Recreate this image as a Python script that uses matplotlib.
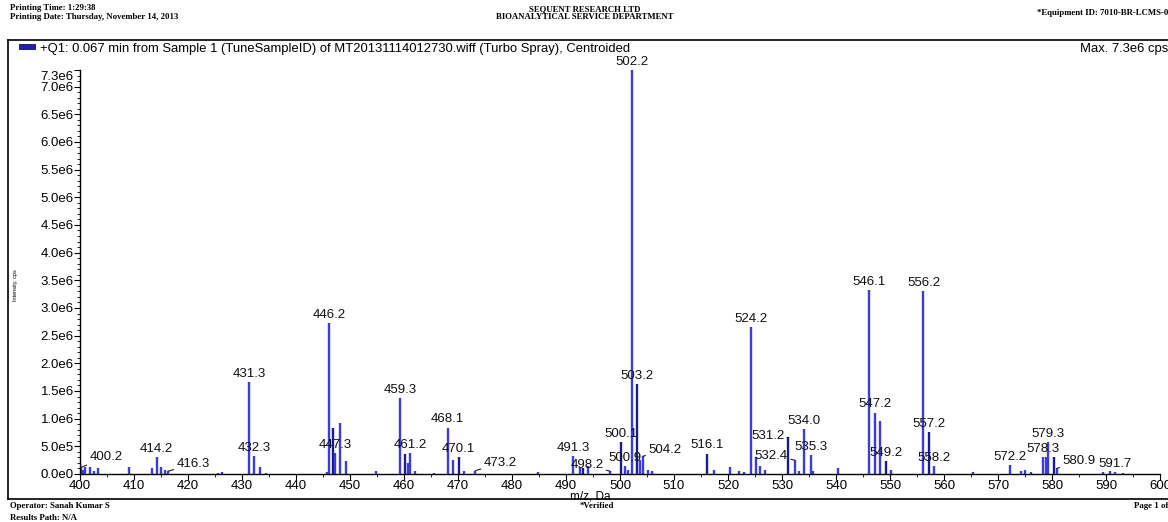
import numpy as np
import matplotlib
matplotlib.use("Agg")
import matplotlib.pyplot as plt
import matplotlib.transforms as mtransforms
from matplotlib.ticker import MultipleLocator, FixedLocator
from matplotlib.patches import Rectangle
from matplotlib.lines import Line2D

# peak list (m/z, intensity in 1e6 cps)
mz = [400.0, 400.2, 400.6, 401.0, 401.9, 402.5, 403.3, 409.1, 413.3, 414.2, 415.0, 415.7, 416.3,
      425.5, 426.3, 431.3, 432.3, 433.3, 434.5, 445.8, 446.2, 446.9, 447.3, 448.1, 449.3, 454.8,
      459.3, 460.1, 460.8, 461.2, 462.0, 465.5, 468.1, 469.1, 470.1, 471.1, 473.2, 484.8, 491.3,
      492.6, 493.2, 494.1, 498.2, 500.1, 500.9, 501.4, 502.2, 503.2, 503.7, 504.2, 505.2, 506.0,
      516.1, 517.4, 520.3, 522.0, 523.0, 524.2, 525.2, 526.0, 526.8, 531.2, 532.4, 533.2, 534.0,
      535.3, 535.8, 540.3, 546.1, 547.2, 548.2, 549.2, 550.2, 556.2, 557.2, 558.2, 565.3, 572.2,
      574.2, 575.0, 576.2, 578.3, 578.9, 579.3, 580.3, 580.9, 589.5, 590.7, 591.7, 593.2]
inten = [0.18, 0.12, 0.08, 0.12, 0.12, 0.05, 0.10, 0.12, 0.10, 0.30, 0.12, 0.08, 0.05,
         0.02, 0.04, 1.66, 0.33, 0.12, 0.02, 0.04, 2.72, 0.84, 0.38, 0.93, 0.24, 0.05,
         1.38, 0.36, 0.20, 0.38, 0.06, 0.02, 0.84, 0.26, 0.30, 0.05, 0.06, 0.03, 0.33,
         0.12, 0.10, 0.15, 0.05, 0.57, 0.15, 0.08, 7.30, 1.62, 0.25, 0.32, 0.08, 0.06,
         0.37, 0.08, 0.13, 0.05, 0.03, 2.66, 0.30, 0.15, 0.08, 0.66, 0.25, 0.05, 0.82,
         0.35, 0.05, 0.10, 3.32, 1.11, 0.95, 0.24, 0.08, 3.30, 0.75, 0.15, 0.04, 0.16,
         0.05, 0.08, 0.03, 0.31, 0.31, 0.58, 0.30, 0.10, 0.04, 0.05, 0.04, 0.02]
dark = [400.0, 446.9, 460.1, 470.1, 493.2, 500.1, 503.2, 516.1, 531.2, 549.2, 557.2, 580.3]

labels = ["400.2", "414.2", "416.3", "431.3", "432.3", "446.2", "447.3", "459.3", "461.2", "468.1",
          "470.1", "473.2", "491.3", "498.2", "500.1", "500.9", "502.2", "503.2", "504.2", "516.1",
          "524.2", "531.2", "532.4", "534.0", "535.3", "546.1", "547.2", "549.2", "556.2", "557.2",
          "558.2", "572.2", "578.3", "579.3", "580.9", "591.7"]

yticks = [0, 0.5, 1.0, 1.5, 2.0, 2.5, 3.0, 3.5, 4.0, 4.5, 5.0, 5.5, 6.0, 6.5, 7.0, 7.3]
ytick_text = ["0.0e0", "5.0e5", "1.0e6", "1.5e6", "2.0e6", "2.5e6", "3.0e6", "3.5e6", "4.0e6",
              "4.5e6", "5.0e6", "5.5e6", "6.0e6", "6.5e6", "7.0e6", "7.3e6"]

# labels that sit off to the side with a leader line: (dx, dy) in points, ha
leaders = {"400.2": (6, 3, "left"), "416.3": (6, 1, "left"), "473.2": (6, 1, "left"),
           "498.2": (-5, 0, "right"), "504.2": (4, 0, "left"), "531.2": (-3, -3, "right"),
           "532.4": (-5, -1, "right"), "580.9": (4, 1, "left")}

sans = "Liberation Sans"
serif = "Liberation Serif"
light = "#3c3cdc"
navy = "#1a1a96"

fig = plt.figure(figsize=(11.68, 5.22), dpi=100)
ax = fig.add_axes([80 / 1168, 48 / 522, 1080 / 1168, 404 / 522])

mz_a = np.array(mz)
y_a = np.array(inten) * 1e6
cols = [navy if m in dark else light for m in mz]
ax.vlines(mz_a, 0, y_a, colors=cols, linewidth=1.7)

for lab in labels:
    m = float(lab)
    i = int(np.argmin(np.abs(mz_a - m)))
    top = y_a[i]
    if lab in leaders:
        dx, dy, ha = leaders[lab]
        ax.annotate(lab, xy=(mz_a[i], top), xytext=(dx, dy), textcoords="offset points",
                    ha=ha, va="bottom", fontsize=9.5, family=sans, color="#111111",
                    arrowprops=dict(arrowstyle="-", lw=0.8, color="#222222",
                                    shrinkA=0, shrinkB=0))
    else:
        ax.annotate(lab, xy=(mz_a[i], top), xytext=(0, 1.5), textcoords="offset points",
                    ha="center", va="bottom", fontsize=9.5, family=sans, color="#111111")

ax.set_xlim(400, 600)
ax.set_ylim(0, 7.3e6)
ax.xaxis.set_major_locator(MultipleLocator(10))
ax.xaxis.set_minor_locator(MultipleLocator(5))
ax.yaxis.set_major_locator(FixedLocator([v * 1e6 for v in yticks]))
ax.yaxis.set_minor_locator(MultipleLocator(1e5))
ax.set_yticklabels(ytick_text)
for sp in ["top", "right"]:
    ax.spines[sp].set_visible(False)
ax.spines["left"].set_linewidth(1.0)
ax.spines["bottom"].set_linewidth(1.0)
ax.tick_params(axis="both", which="major", labelsize=9.5, length=4, width=0.8, pad=0.5)
ax.tick_params(axis="both", which="minor", length=2, width=0.6)
for t in ax.get_xticklabels() + ax.get_yticklabels():
    t.set_family(sans)
# the max label is printed a little below the axis top
top_lab = ax.get_yticklabels()[-1]
top_lab.set_transform(top_lab.get_transform() +
                      mtransforms.ScaledTranslation(0, -5 / 100, fig.dpi_scale_trans))

ax.text(0.472, -0.04, "m/z, Da", transform=ax.transAxes, ha="center", va="top",
        fontsize=8.5, family=sans)
fig.text(16 / 1168, 1 - 285 / 522, "Intensity, cps", rotation=90, ha="center", va="center",
         fontsize=4, family=sans)

# report frame
fig.add_artist(Line2D([8 / 1168, 1.0], [1 - 40 / 522] * 2, color="black", lw=1.2))
fig.add_artist(Line2D([8 / 1168, 1.0], [1 - 499 / 522] * 2, color="black", lw=1.2))
fig.add_artist(Line2D([8 / 1168] * 2, [1 - 40 / 522, 1 - 499 / 522], color="black", lw=1.2))
fig.add_artist(Rectangle((19 / 1168, 1 - 49 / 522), 16 / 1168, 5 / 522, facecolor="#2020b0",
                         edgecolor="#101060", lw=0.6))
fig.text(40 / 1168, 1 - 49 / 522,
         "+Q1: 0.067 min from Sample 1 (TuneSampleID) of MT20131114012730.wiff (Turbo Spray), Centroided",
         ha="left", va="center", fontsize=9.4, family=sans)
fig.text(1.0, 1 - 49 / 522, "Max. 7.3e6 cps", ha="right", va="center", fontsize=9.4, family=sans)

# header / footer
hdr = dict(fontsize=6.3, family=serif, fontweight="bold")
fig.text(10 / 1168, 1 - 8 / 522, "Printing Time: 1:29:38", ha="left", va="center", **hdr)
fig.text(10 / 1168, 1 - 17 / 522, "Printing Date: Thursday, November 14, 2013", ha="left", va="center", **hdr)
fig.text(585 / 1168, 1 - 9 / 522, "SEQUENT RESEARCH LTD", ha="center", va="center", **hdr)
fig.text(585 / 1168, 1 - 17 / 522, "BIOANALYTICAL SERVICE DEPARTMENT", ha="center", va="center", **hdr)
fig.text(1.0, 1 - 13 / 522, "*Equipment ID: 7010-BR-LCMS-0", ha="right", va="center", **hdr)
fig.text(10 / 1168, 1 - 506 / 522, "Operator: Sanah Kumar S", ha="left", va="center", **hdr)
fig.text(10 / 1168, 1 - 518 / 522, "Results Path: N/A", ha="left", va="center", **hdr)
fig.text(580 / 1168, 1 - 506 / 522, "*Verified", ha="left", va="center", **hdr)
fig.text(1.0, 1 - 506 / 522, "Page 1 of", ha="right", va="center", **hdr)

fig.savefig("out.png", dpi=100)
